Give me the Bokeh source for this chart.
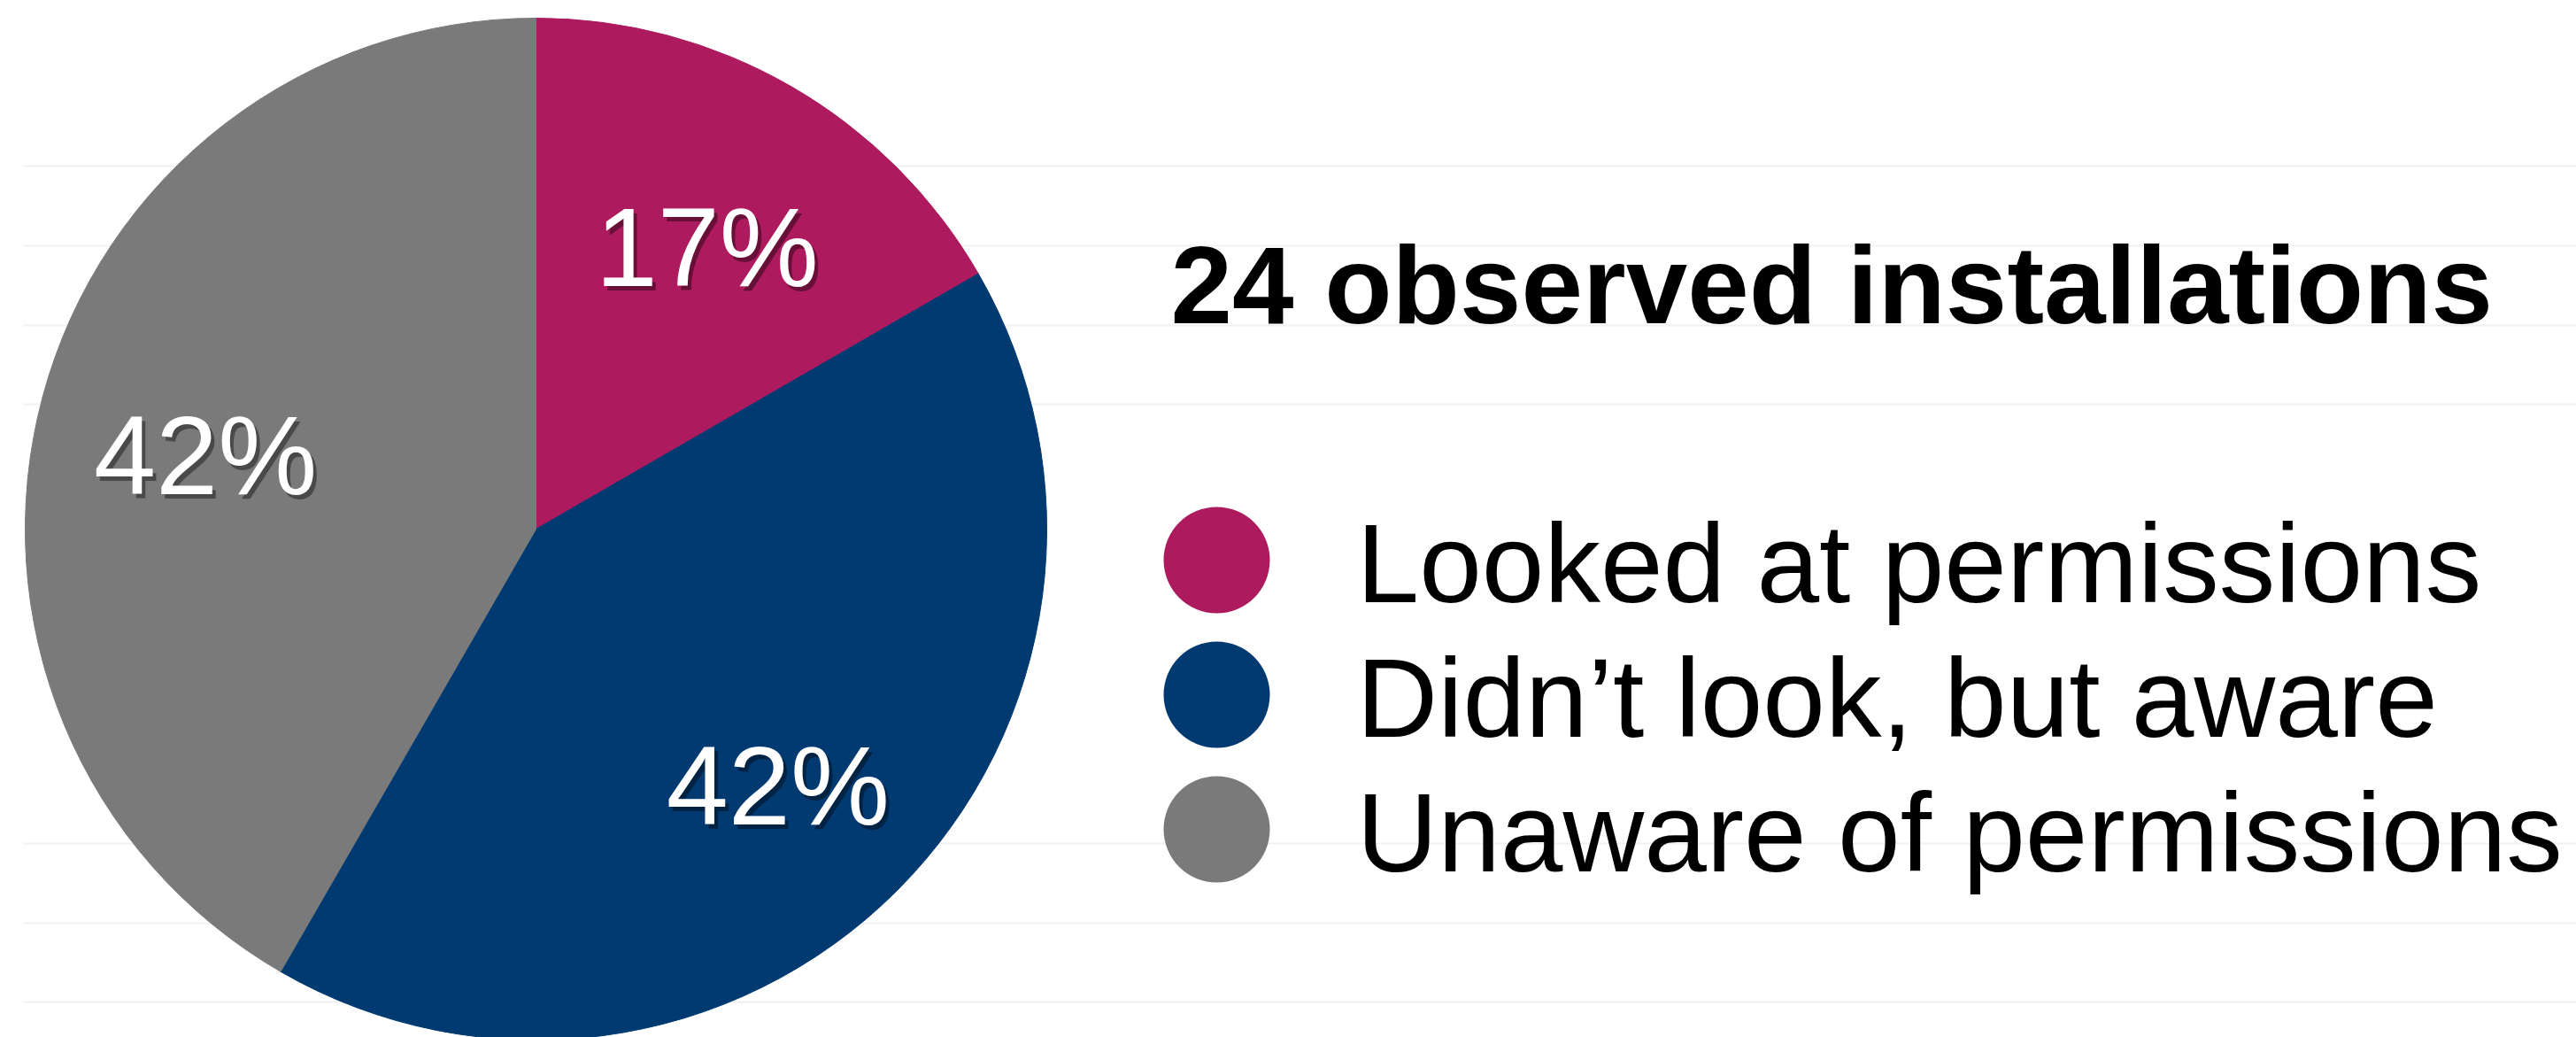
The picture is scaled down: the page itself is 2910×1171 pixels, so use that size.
import math
from bokeh.plotting import figure
from bokeh.models import Range1d, ColumnDataSource
from bokeh.core.properties import value
from bokeh.embed import file_html
from bokeh.resources import INLINE

# ---- data ----
title_text = "24 observed installations"
categories = ["Looked at permissions", "Didn\u2019t look, but aware", "Unaware of permissions"]
counts = [4, 10, 10]
colors = ["#AD1A5E", "#003A70", "#7A7A7A"]

# faint slide rules (screen y positions)
rule_y = [187, 277, 367, 456, 952, 1042, 1131]

# ---- layout (screen pixel units) ----
W, H = 2910, 1171
FONT = "Liberation Sans"
MID_FIX = 7  # 'middle' baseline sits a bit above cap centre


def sy(v):
    return H - v


p = figure(width=W, height=H, output_backend="svg", toolbar_location=None,
           x_range=Range1d(0, W), y_range=Range1d(0, H), min_border=0)
p.axis.visible = False
p.grid.visible = False
p.outline_line_color = None
p.background_fill_color = "white"
p.border_fill_color = "white"

# background rules
p.segment(x0=[26] * len(rule_y), x1=[W] * len(rule_y),
          y0=[sy(v) for v in rule_y], y1=[sy(v) for v in rule_y],
          line_color="#f1f1f1", line_width=2)

# pie
cx, cy, r = 605, sy(597), 577
total = sum(counts)
cum = 0
starts, ends, lx, ly, labels = [], [], [], [], []
for c in counts:
    a0 = cum / total
    cum += c
    a1 = cum / total
    starts.append(math.pi / 2 - 2 * math.pi * a1)
    ends.append(math.pi / 2 - 2 * math.pi * a0)
    mid = 2 * math.pi * (a0 + a1) / 2
    lx.append(cx + 0.67 * r * math.sin(mid))
    ly.append(cy + 0.67 * r * math.cos(mid) - 17)
    labels.append(f"{round(100 * c / total)}%")

src = ColumnDataSource(dict(start=starts, end=ends, color=colors, lx=lx, ly=ly, label=labels))
p.wedge(x=cx, y=cy, radius=r, start_angle="start", end_angle="end",
        fill_color="color", line_color="color", line_width=1, source=src)

# label shadow + label
p.text(x="lx", y="ly", text="label", source=src, text_color="black", text_alpha=0.4,
       text_font=value(FONT), text_font_size="126px", text_align="center",
       text_baseline="middle", x_offset=4, y_offset=5)
p.text(x="lx", y="ly", text="label", source=src, text_color="white",
       text_font=value(FONT), text_font_size="126px", text_align="center",
       text_baseline="middle")

# title
p.text(x=[1322], y=[sy(314 + MID_FIX)], text=[title_text], text_color="black",
       text_font=value(FONT), text_font_size="125px", text_font_style="bold",
       text_align="left", text_baseline="middle")

# legend
leg_top, leg_step = 632, 152
lg_y = [sy(leg_top + i * leg_step) for i in range(len(categories))]
lsrc = ColumnDataSource(dict(y=lg_y, ty=[v - MID_FIX + 4 for v in lg_y], color=colors, name=categories))
p.scatter(x=1374, y="y", size=120, marker="circle", fill_color="color",
          line_color=None, source=lsrc)
p.text(x=1532, y="ty", text="name", source=lsrc, text_color="black",
       text_font=value(FONT), text_font_size="127px", text_align="left",
       text_baseline="middle")

open("out.html", "w").write(file_html(p, INLINE))
